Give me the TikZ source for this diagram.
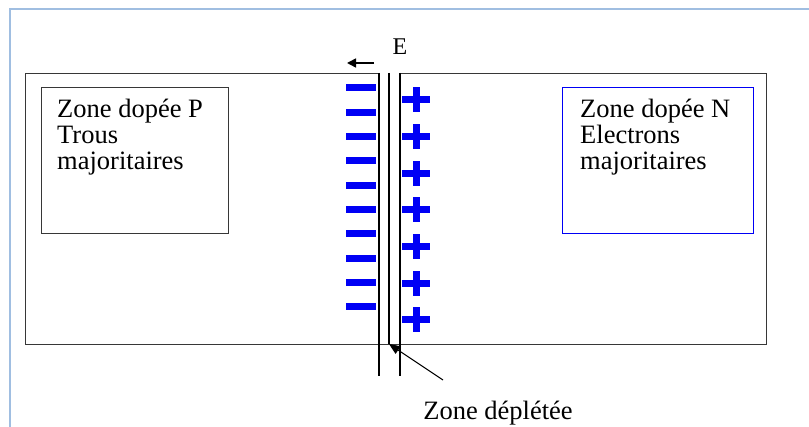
\documentclass[tikz,border=0pt]{standalone}
\usepackage{fontspec}
\setmainfont{Liberation Serif}
\usetikzlibrary{arrows.meta}
\definecolor{framebl}{RGB}{160,190,225}
\definecolor{edge}{RGB}{55,55,55}
\definecolor{sign}{RGB}{0,0,245}
\tikzset{
  x=1pt, y=-1pt,
  lbl/.style={inner sep=0pt, font=\rmfamily\fontsize{26.5}{27}\selectfont, anchor=base west},
  boxp/.style={draw=edge, line width=1.4pt, inner sep=0pt, anchor=north west},
  boxn/.style={draw=sign, line width=1.2pt, inner sep=0pt, anchor=north west},
  minus/.style={fill=sign, inner sep=0pt, minimum width=30pt, minimum height=7pt},
  pbar/.style={fill=sign, inner sep=0pt},
  dline/.style={line width=1.2pt, black},
}
\begin{document}
\begin{tikzpicture}
\useasboundingbox (0,0) rectangle (809,427);
% page frame
\draw[framebl, line width=2pt] (9.5,427) -- (9.5,9.5) -- (809,9.5);
% main rectangle
\node[boxp, minimum width=741pt, minimum height=271pt] (main) at (25,73) {};
\fill[white] (380,70) rectangle (399,76.5);
% P box
\node[boxp, minimum width=187pt, minimum height=146pt] (pbox) at (41,87) {};
\node[lbl] (p1) at (57,118) {Zone dopée P};
\node[lbl] (p2) at (57,144) {Trous};
\node[lbl] (p3) at (57,170) {majoritaires};
% N box
\node[boxn, minimum width=191pt, minimum height=146pt] (nbox) at (562,87) {};
\node[lbl] (n1) at (580,118) {Zone dopée N};
\node[lbl] (n2) at (580,144) {Electrons};
\node[lbl] (n3) at (580,170) {majoritaires};
% depletion zone lines
\coordinate (la) at (379,73);
\coordinate (lb) at (379,376);
\coordinate (ma) at (389,73);
\coordinate (mb) at (389,344);
\coordinate (ra) at (400,73);
\coordinate (rb) at (400,376);
\draw[dline] (la) -- (lb);
\draw[dline] (ma) -- (mb);
\draw[dline] (ra) -- (rb);
% minus signs
\foreach \i/\y in {1/88,2/112.3,3/136.6,4/160.9,5/185.2,6/209.5,7/233.8,8/258.1,9/282.4,10/306.7}
  \node[minus] (m\i) at (361,\y) {};
% plus signs
\foreach \i/\y in {1/100,2/136.7,3/173.3,4/210,5/246.7,6/283.3,7/320}{
  \node[pbar, minimum width=28pt, minimum height=7pt] (ph\i) at (416,\y) {};
  \node[pbar, minimum width=7pt, minimum height=25pt] (pv\i) at (416,\y) {};
}
% field E
\coordinate (ea) at (374,63);
\coordinate (eb) at (347,63);
\draw[line width=1.6pt, -{Triangle[length=9pt,width=9pt]}] (ea) -- (eb);
\node[inner sep=0pt, font=\rmfamily\fontsize{24}{26}\selectfont] (E) at (400,47) {E};
% depleted zone label
\coordinate (za) at (443,380);
\draw[line width=1.1pt, -{Triangle[length=11pt,width=9pt]}] (za) -- (mb);
\node[lbl, anchor=base] (zd) at (498,420) {Zone déplétée};
\end{tikzpicture}
\end{document}
